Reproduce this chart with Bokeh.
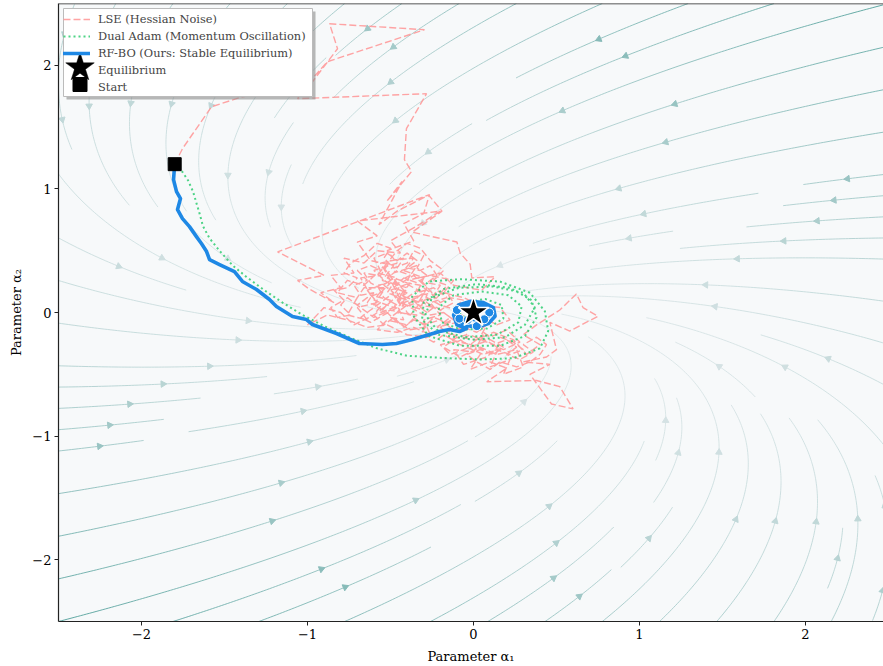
import math
import numpy as np
from bokeh.plotting import figure
from bokeh.models import Range1d, FixedTicker, Legend, LegendItem, ColumnDataSource, Span
from bokeh.embed import file_html
from bokeh.resources import INLINE

# ------------------------------------------------------------------ data
# linear vector field  d(alpha)/dt = A @ alpha  (read from the stream pattern)
FIELD_MATRIX = [[-0.85, -1.15], [0.20, -0.90]]
FIELD_X_LIMITS = [-2.5, 2.5]
FIELD_Y_LIMITS = [-2.5, 2.5]
STREAM_DENSITY = 1.0

X_TICKS = [-2, -1, 0, 1, 2]
X_TICK_LABELS = ["\u22122", "\u22121", "0", "1", "2"]
Y_TICKS = [-2, -1, 0, 1, 2]
Y_TICK_LABELS = ["\u22122", "\u22121", "0", "1", "2"]

SERIES_LABELS = ["LSE (Hessian Noise)", "Dual Adam (Momentum Oscillation)",
                 "RF-BO (Ours: Stable Equilibrium)", "Equilibrium", "Start"]

START_X = [-1.80]
START_Y = [1.20]
EQ_X = [0.0]
EQ_Y = [0.0]

LSE_PATH = [
    (-1.80, 1.20), (-1.753, 1.326), (-1.578, 1.665), (-1.392, 1.746), (-1.15, 1.80),
    (-0.970, 1.867), (-0.819, 2.134), (-0.867, 2.336), (-0.295, 2.288), (-0.880, 2.029),
    (-1.00, 1.85), (-1.060, 1.730), (-0.283, 1.770), (-0.404, 1.487), (-0.416, 1.237),
    (-0.373, 1.140), (-0.524, 0.897),
    (-0.43, 1.06), (-0.57, 0.71), (-0.46, 0.82), (-0.27, 0.95), (-0.19, 0.82), (-0.37, 0.65),
    (-0.10, 0.57), (-0.08, 0.48), (-0.02, 0.39), (-0.01, 0.28), (0.13, 0.29), (0.05, 0.18),
    (-0.12, 0.22), (-0.20, 0.32), (-0.33, 0.28), (-0.25, 0.16), (-0.38, 0.12), (-0.30, 0.02),
    (-0.45, 0.08), (-0.40, 0.20), (-0.55, 0.26), (-0.48, 0.38), (-0.62, 0.42), (-0.70, 0.57),
    (-0.58, 0.62), (-0.70, 0.74), (-0.20, 0.82), (-0.34, 0.70), (-0.50, 0.58), (-0.44, 0.48),
    (-0.58, 0.50), (-0.66, 0.40), (-0.78, 0.44), (-0.72, 0.32), (-0.86, 0.30), (-0.80, 0.20),
    (-0.92, 0.16), (-0.84, 0.08), (-0.99, 0.19), (-1.06, 0.26), (-0.90, 0.30), (-1.18, 0.49),
    (-0.265, 0.954), (-0.30, 0.80), (-0.42, 0.72), (-0.36, 0.58), (-0.52, 0.50), (-0.46, 0.40),
    (-0.60, 0.34), (-0.52, 0.24), (-0.64, 0.18), (-0.58, 0.08), (-0.70, 0.04), (-0.64, -0.06),
    (-0.76, -0.02), (-0.70, 0.12), (-0.82, 0.16), (-0.76, 0.26), (-0.66, 0.22), (-0.58, 0.32),
    (-0.46, 0.28), (-0.52, 0.16), (-0.40, 0.10), (-0.46, 0.00), (-0.34, -0.02), (-0.40, -0.10),
    (-0.52, -0.06), (-0.58, -0.14), (-0.46, -0.16), (-0.36, -0.12), (-0.26, -0.18), (-0.30, -0.06),
    (-0.20, -0.02), (-0.26, 0.08), (-0.16, 0.12), (-0.24, 0.20), (-0.34, 0.16), (-0.30, 0.28),
    (-0.42, 0.34), (-0.36, 0.44), (-0.50, 0.42), (-0.56, 0.30), (-0.68, 0.28), (-0.62, 0.14),
    (-0.50, 0.10), (-0.56, 0.00), (-0.44, 0.06), (-0.50, 0.18), (-0.38, 0.24), (-0.44, 0.14),
    (-0.32, 0.08), (-0.38, -0.02), (-0.50, 0.02), (-0.60, -0.04), (-0.72, 0.08), (-0.66, 0.20),
    (-0.54, 0.20), (-0.60, 0.10), (-0.48, 0.04), (-0.42, 0.18), (-0.54, 0.36), (-0.46, 0.22),
    (-0.36, 0.30), (-0.28, 0.20), (-0.34, 0.06), (-0.22, 0.04), (-0.14, -0.04), (-0.22, -0.12),
    (-0.10, -0.08), (-0.04, -0.18), (-0.14, -0.22), (-0.02, -0.26), (0.06, -0.18),
    (0.00, -0.32), (-0.12, -0.30), (-0.06, -0.42), (0.08, -0.36), (0.16, -0.26), (0.10, -0.44),
    (0.22, -0.38), (0.18, -0.50), (0.30, -0.44), (0.26, -0.30), (0.14, -0.34), (0.04, -0.28),
    (-0.08, -0.36), (-0.18, -0.28), (-0.10, -0.20), (0.02, -0.22), (0.12, -0.16), (0.24, -0.22),
    (0.32, -0.34), (0.40, -0.26), (0.30, -0.18), (0.38, -0.10),
    (0.52, 0.02), (0.62, 0.15), (0.66, 0.04), (0.75, -0.03), (0.58, -0.15), (0.46, -0.08),
    (0.50, -0.30), (0.44, -0.36), (0.30, -0.40), (0.46, -0.42), (0.34, -0.50), (0.47, -0.74),
    (0.60, -0.78), (0.52, -0.60), (0.38, -0.55), (0.08, -0.56), (0.20, -0.45), (0.10, -0.40),
    (-0.02, -0.46), (0.06, -0.30), (-0.06, -0.24),
    (-0.16, -0.14), (-0.28, -0.20), (-0.40, -0.18), (-0.52, -0.10), (-0.64, -0.12), (-0.76, -0.06),
    (-0.88, -0.02), (-1.00, -0.10), (-0.90, 0.04), (-0.80, 0.00), (-0.72, -0.10), (-0.60, -0.02),
    (-0.52, 0.06), (-0.44, 0.16), (-0.38, 0.06), (-0.28, 0.12), (-0.20, 0.06), (-0.10, 0.02),
    (-0.04, -0.06), (0.06, -0.04), (0.14, -0.10), (0.22, -0.06), (0.16, 0.04), (0.04, 0.06),
    (-0.06, 0.12), (-0.18, 0.16), (-0.12, 0.26), (-0.26, 0.30), (-0.40, 0.26), (-0.34, 0.38),
    (-0.48, 0.32), (-0.42, 0.44), (-0.56, 0.40), (-0.50, 0.26), (-0.40, 0.00), (-0.30, -0.10),
    (-0.20, -0.06), (-0.12, -0.14), (0.00, -0.10), (0.10, -0.20), (0.20, -0.14), (0.28, -0.24),
    (0.18, -0.30), (0.08, -0.24),
    (-0.02, -0.18), (-0.10, -0.24), (-0.18, -0.18), (-0.24, -0.24), (-0.32, -0.18), (-0.28, -0.10),
    (-0.36, -0.06), (-0.42, -0.12), (-0.48, -0.04), (-0.54, -0.10), (-0.60, -0.02), (-0.56, 0.05),
    (-0.64, 0.08), (-0.60, 0.16), (-0.68, 0.14), (-0.72, 0.22), (-0.64, 0.26), (-0.70, 0.34),
    (-0.62, 0.38), (-0.56, 0.34), (-0.60, 0.44), (-0.52, 0.48), (-0.46, 0.42), (-0.40, 0.48),
    (-0.34, 0.42), (-0.40, 0.36), (-0.32, 0.34), (-0.26, 0.38), (-0.22, 0.30), (-0.28, 0.24),
    (-0.20, 0.22), (-0.24, 0.14), (-0.16, 0.16), (-0.12, 0.08), (-0.20, 0.02), (-0.28, 0.06),
    (-0.34, 0.12), (-0.42, 0.08), (-0.48, 0.14), (-0.44, 0.22), (-0.52, 0.28), (-0.46, 0.34),
    (-0.38, 0.30), (-0.44, 0.26), (-0.36, 0.20), (-0.30, 0.16), (-0.36, 0.10), (-0.44, 0.02),
    (-0.50, -0.04), (-0.42, -0.06), (-0.46, 0.06), (-0.54, 0.12), (-0.58, 0.22), (-0.50, 0.24),
    (-0.56, 0.16), (-0.64, 0.12), (-0.70, 0.06), (-0.76, 0.12), (-0.80, 0.06), (-0.74, -0.02),
    (-0.82, -0.04), (-0.86, 0.04), (-0.78, 0.10), (-0.84, 0.18), (-0.76, 0.20), (-0.70, 0.28),
    (-0.78, 0.32), (-0.74, 0.40), (-0.66, 0.46), (-0.58, 0.56), (-0.50, 0.52), (-0.54, 0.44),
    (-0.48, 0.36), (-0.40, 0.40), (-0.36, 0.50), (-0.30, 0.46), (-0.34, 0.36), (-0.28, 0.30),
    (-0.34, 0.24), (-0.42, 0.28), (-0.48, 0.20), (-0.40, 0.16), (-0.46, 0.10), (-0.38, 0.04),
    (-0.30, -0.02), (-0.24, 0.04), (-0.30, 0.10), (-0.22, 0.12), (-0.16, 0.22), (-0.24, 0.26),
    (-0.18, 0.34), (-0.26, 0.42), (-0.32, 0.52), (-0.40, 0.56), (-0.46, 0.50), (-0.52, 0.40),
    (-0.58, 0.30), (-0.66, 0.32), (-0.62, 0.24), (-0.54, 0.18), (-0.60, 0.06), (-0.52, 0.00),
    (-0.46, -0.08), (-0.38, -0.14), (-0.30, -0.12), (-0.24, -0.04), (-0.16, -0.08), (-0.08, -0.02),
    (-0.12, 0.04), (-0.06, 0.10), (-0.14, 0.12), (-0.20, 0.08), (-0.26, 0.16), (-0.32, 0.22),
    (-0.40, 0.24), (-0.48, 0.28), (-0.54, 0.22), (-0.48, 0.16), (-0.56, 0.08), (-0.62, 0.02),
    (-0.68, -0.04), (-0.62, -0.08), (-0.54, -0.02), (-0.46, 0.04), (-0.40, 0.12), (-0.34, 0.18),
    (-0.28, 0.14), (-0.32, 0.04), (-0.26, -0.02), (-0.18, 0.00), (-0.12, -0.06), (-0.20, -0.12),
    (-0.14, -0.18), (-0.06, -0.12), (0.02, -0.16), (0.08, -0.10), (0.04, -0.20), (0.12, -0.26),
    (0.20, -0.22), (0.26, -0.28), (0.20, -0.34), (0.28, -0.38), (0.36, -0.32), (0.30, -0.26),
    (0.38, -0.20), (0.44, -0.26), (0.40, -0.34), (0.34, -0.40), (0.26, -0.44), (0.16, -0.40),
    (0.10, -0.46), (0.02, -0.40), (-0.04, -0.34), (0.04, -0.30), (0.12, -0.34), (0.18, -0.28),
    (0.10, -0.22), (0.02, -0.26), (-0.06, -0.30), (-0.14, -0.34), (-0.20, -0.26), (-0.12, -0.24),
    (-0.04, -0.28), (0.06, -0.34), (0.14, -0.30), (0.22, -0.34), (0.30, -0.30), (0.24, -0.24),
    (0.16, -0.20),
]
LSE_X = [pt[0] for pt in LSE_PATH]
LSE_Y = [pt[1] for pt in LSE_PATH]

ADAM_PATH = [
    (-1.80, 1.20), (-1.76, 1.15), (-1.72, 1.07), (-1.69, 0.98), (-1.67, 0.89), (-1.65, 0.80),
    (-1.63, 0.70), (-1.59, 0.60), (-1.53, 0.50), (-1.45, 0.38), (-1.37, 0.29), (-1.26, 0.18),
    (-1.15, 0.08), (-1.03, -0.02), (-0.90, -0.11), (-0.75, -0.20), (-0.58, -0.29), (-0.40, -0.35),
    (-0.16, -0.37), (0.05, -0.38), (0.24, -0.37), (0.40, -0.29), (0.45, -0.15), (0.43, 0.01),
    (0.34, 0.16), (0.16, 0.25), (-0.08, 0.27), (-0.27, 0.25), (-0.37, 0.13), (-0.36, -0.03),
    (-0.27, -0.19), (-0.08, -0.27), (0.16, -0.27), (0.31, -0.19), (0.38, -0.04), (0.35, 0.10),
    (0.22, 0.20), (0.02, 0.23), (-0.18, 0.19), (-0.30, 0.08), (-0.31, -0.06), (-0.21, -0.18),
    (0.00, -0.22), (0.19, -0.20), (0.31, -0.10), (0.37, 0.04), (0.30, 0.16), (0.12, 0.21),
    (-0.09, 0.20), (-0.25, 0.12), (-0.29, -0.02), (-0.22, -0.14), (-0.05, -0.20), (0.14, -0.18),
    (0.27, -0.08), (0.29, 0.05), (0.21, 0.14), (0.05, 0.17), (-0.12, 0.14), (-0.21, 0.04),
    (-0.19, -0.08), (-0.07, -0.14), (0.08, -0.13), (0.18, -0.05), (0.17, 0.06), (0.07, 0.11),
    (-0.05, 0.08), (-0.09, 0.00), (-0.03, -0.06), (0.04, -0.04),
]
ADAM_X = [pt[0] for pt in ADAM_PATH]
ADAM_Y = [pt[1] for pt in ADAM_PATH]

RFBO_X = [-1.80, -1.807, -1.789, -1.765, -1.783, -1.753, -1.711, -1.669, -1.639, -1.608,
          -1.590, -1.530, -1.440, -1.392, -1.307, -1.229, -1.187, -1.090, -1.006, -0.970,
          -0.825, -0.687, -0.548, -0.464, -0.367, -0.265, -0.205, -0.145, -0.084, -0.042,
          -0.10, -0.12, -0.09, -0.02, 0.06, 0.12, 0.13, 0.09, 0.02, -0.06, -0.11, -0.08,
          -0.01, 0.07, 0.10, 0.05, -0.02]
RFBO_Y = [1.20, 1.075, 0.978, 0.922, 0.833, 0.760, 0.695, 0.614, 0.558, 0.493,
          0.428, 0.388, 0.331, 0.251, 0.186, 0.105, 0.049, -0.032, -0.057, -0.097,
          -0.170, -0.251, -0.259, -0.251, -0.218, -0.178, -0.154, -0.137, -0.154, -0.129,
          -0.10, -0.02, 0.06, 0.09, 0.08, 0.04, -0.03, -0.09, -0.12, -0.10, -0.03, 0.04,
          0.07, 0.05, -0.02, -0.07, -0.05]
RFBO_END_X = [-0.085, -0.035, 0.02, 0.095, 0.065, -0.10]
RFBO_END_Y = [-0.05, -0.06, -0.11, 0.0, -0.055, 0.02]

# ------------------------------------------------------------------ layout
W_FIG, H_FIG = 883, 666
B_LEFT, B_TOP, B_BOTTOM = 58, 3, 45
X_RANGE = (-2.5, 2.47)
Y_RANGE = (-2.5, 2.5)
FRAME_W = W_FIG - B_LEFT
FRAME_H = H_FIG - B_TOP - B_BOTTOM
PX_X = FRAME_W / (X_RANGE[1] - X_RANGE[0])
PX_Y = FRAME_H / (Y_RANGE[1] - Y_RANGE[0])
FONT = "DejaVu Serif"

# legend box geometry in screen pixels (canvas coordinates)
LEG_MARGIN, LEG_PAD, LEG_GLYPH_W, LEG_GLYPH_H, LEG_SPACING, LEG_STANDOFF = 5, 3, 27, 14, 3, 8
LEG_W, LEG_H = 249, 88
LEG_LEFT, LEG_TOP = B_LEFT + LEG_MARGIN, B_TOP + LEG_MARGIN
LEG_ENTRY_BOTTOM = FRAME_H - LEG_H - 3       # legend entries anchor (frame coords, from bottom)
LEG_STAR_ROW, LEG_SQUARE_ROW = 67, 84         # canvas rows of the big legend markers


def px_to_x(px):
    return X_RANGE[0] + (px - B_LEFT) / PX_X


def px_to_y(py):
    return Y_RANGE[1] - (py - B_TOP) / PX_Y


# ------------------------------------------------------------------ streamlines
A = np.array(FIELD_MATRIX, dtype=float)
FX0, FX1 = FIELD_X_LIMITS
FY0, FY1 = FIELD_Y_LIMITS
FW, FH = FX1 - FX0, FY1 - FY0


def field(x, y):
    return A[0, 0] * x + A[0, 1] * y, A[1, 0] * x + A[1, 1] * y


def stream_trajectories():
    n = int(30 * STREAM_DENSITY)
    mask = np.zeros((n, n), dtype=bool)
    ds = 0.004
    maxlen = 2.0
    minlen = 0.1

    def cell(fx, fy):
        return int(fx * (n - 1) + 0.5), int(fy * (n - 1) + 0.5)

    def direction(fx, fy):
        u, v = field(FX0 + fx * FW, FY0 + fy * FH)
        ua, va = u / FW, v / FH
        s = math.hypot(ua, va)
        if s < 1e-9:
            return None
        return ua / s, va / s

    def integrate(fx, fy, sign, cells, start_cell):
        pts = []
        total = 0.0
        current = start_cell
        while total < maxlen:
            d1 = direction(fx, fy)
            if d1 is None:
                break
            mx, my = fx + 0.5 * ds * sign * d1[0], fy + 0.5 * ds * sign * d1[1]
            if not (0 <= mx <= 1 and 0 <= my <= 1):
                break
            d2 = direction(mx, my)
            if d2 is None:
                break
            nx_, ny_ = fx + ds * sign * d2[0], fy + ds * sign * d2[1]
            if not (0 <= nx_ <= 1 and 0 <= ny_ <= 1):
                break
            c = cell(nx_, ny_)
            if c != current:
                if mask[c[1], c[0]]:
                    break
                mask[c[1], c[0]] = True
                cells.append(c)
                current = c
            fx, fy = nx_, ny_
            pts.append((fx, fy))
            total += ds
        return pts, total

    seeds = []
    xfirst, yfirst, xlast, ylast = 0, 1, n - 1, n - 1
    x, y, dirn = 0, 0, "right"
    for _ in range(n * n):
        seeds.append((x, y))
        if dirn == "right":
            x += 1
            if x >= xlast:
                xlast -= 1
                dirn = "up"
        elif dirn == "up":
            y += 1
            if y >= ylast:
                ylast -= 1
                dirn = "left"
        elif dirn == "left":
            x -= 1
            if x <= xfirst:
                xfirst += 1
                dirn = "down"
        else:
            y -= 1
            if y <= yfirst:
                yfirst += 1
                dirn = "right"

    trajs = []
    for xm, ym in seeds:
        if mask[ym, xm]:
            continue
        fx, fy = xm / (n - 1), ym / (n - 1)
        mask[ym, xm] = True
        cells = [(xm, ym)]
        back, lb = integrate(fx, fy, -1, cells, (xm, ym))
        fwd, lf = integrate(fx, fy, 1, cells, (xm, ym))
        if lb + lf < minlen:
            for c in cells:
                mask[c[1], c[0]] = False
            continue
        pts = back[::-1] + [(fx, fy)] + fwd
        trajs.append([(FX0 + a * FW, FY0 + b * FH) for a, b in pts])
    return trajs


LOW_RGB = (224, 232, 234)
HIGH_RGB = (66, 152, 146)
corner_speed = max(math.hypot(*field(cx, cy)) for cx in FIELD_X_LIMITS for cy in FIELD_Y_LIMITS)


def speed_color(x, y):
    t = min(1.0, math.hypot(*field(x, y)) / corner_speed) ** 1.6
    r, g, b = (int(round(lo + (hi - lo) * t)) for lo, hi in zip(LOW_RGB, HIGH_RGB))
    return "#%02x%02x%02x" % (r, g, b)


seg_xs, seg_ys, seg_col = [], [], []
arr_x, arr_y, arr_ang, arr_col = [], [], [], []
CHUNK = 6
for traj in stream_trajectories():
    tx = [p_[0] for p_ in traj]
    ty = [p_[1] for p_ in traj]
    for i in range(0, len(traj) - 1, CHUNK):
        sx = tx[i:i + CHUNK + 1]
        sy = ty[i:i + CHUNK + 1]
        if len(sx) < 2:
            continue
        mid = len(sx) // 2
        seg_xs.append(sx)
        seg_ys.append(sy)
        seg_col.append(speed_color(sx[mid], sy[mid]))
    s = np.cumsum(np.hypot(np.diff(tx) / FW, np.diff(ty) / FH))
    k = int(np.searchsorted(s, s[-1] / 2.0))
    k = min(k, len(tx) - 2)
    hx, hy = (tx[k] + tx[k + 1]) / 2, (ty[k] + ty[k + 1]) / 2
    ang = math.atan2((ty[k + 1] - ty[k]) * PX_Y, (tx[k + 1] - tx[k]) * PX_X)
    arr_x.append(hx)
    arr_y.append(hy)
    arr_ang.append(ang - math.pi / 2)
    arr_col.append(speed_color(hx, hy))

# ------------------------------------------------------------------ figure
p = figure(width=W_FIG, height=H_FIG, x_range=Range1d(*X_RANGE), y_range=Range1d(*Y_RANGE),
           output_backend="svg", toolbar_location=None,
           min_border_left=B_LEFT, min_border_right=0, min_border_top=B_TOP,
           min_border_bottom=B_BOTTOM,
           background_fill_color="#f7f9fa", border_fill_color="white", outline_line_color=None)
p.grid.visible = False

p.multi_line(xs="xs", ys="ys", line_color="c", line_width=1.0, line_alpha=0.85,
             source=ColumnDataSource(dict(xs=seg_xs, ys=seg_ys, c=seg_col)))
p.scatter(x="x", y="y", angle="a", marker="triangle", size=6.5, fill_color="c", line_color="c",
          source=ColumnDataSource(dict(x=arr_x, y=arr_y, a=arr_ang, c=arr_col)))

r_lse = p.line(LSE_X, LSE_Y, line_color="#ff9494", line_alpha=0.85, line_width=1.4,
               line_dash="7 3")
r_adam = p.line(ADAM_X, ADAM_Y, line_color="#2ecc71", line_alpha=0.85, line_width=2.0,
                line_dash="2 3")
r_rfbo = p.line(RFBO_X, RFBO_Y, line_color="#1e88e5", line_width=3.6, line_join="round",
                line_cap="round")
p.scatter(RFBO_END_X, RFBO_END_Y, marker="circle", size=9, fill_color="#1e88e5",
          line_color="white", line_width=1.0)
p.scatter(EQ_X, EQ_Y, marker="star", size=32, fill_color="black", line_color="white",
          line_width=1.5)
p.scatter(START_X, START_Y, marker="square", size=13, fill_color="black", line_color="black")

for ax, ticks, labels in ((p.xaxis, X_TICKS, X_TICK_LABELS), (p.yaxis, Y_TICKS, Y_TICK_LABELS)):
    ax.ticker = FixedTicker(ticks=ticks)
    ax.major_label_overrides = {float(t): l for t, l in zip(ticks, labels)}
    ax.major_label_text_font = FONT
    ax.major_label_text_font_size = "13px"
    ax.major_label_text_color = "black"
    ax.axis_label_text_font = FONT
    ax.axis_label_text_font_size = "13px"
    ax.axis_label_text_font_style = "normal"
    ax.axis_label_text_color = "black"
    ax.axis_line_color = "#222222"
    ax.axis_line_width = 1.2
    ax.major_tick_line_color = "#222222"
    ax.major_tick_out = 4
    ax.major_tick_in = 0
    ax.minor_tick_line_color = None
    ax.major_label_standoff = 3
p.xaxis.axis_label = "Parameter \u03b1\u2081"
p.yaxis.axis_label = "Parameter \u03b1\u2082"
p.xaxis.axis_label_standoff = 7
p.yaxis.axis_label_standoff = 5

p.add_layout(Span(location=Y_RANGE[1], dimension="width", line_color="#222222", line_width=1.5))

# legend frame drawn as glyphs (shadow + white box), then full-size legend markers on top
p.quad(left=[px_to_x(LEG_LEFT + 3)], right=[px_to_x(LEG_LEFT + LEG_W + 3)],
       top=[px_to_y(LEG_TOP + 3)], bottom=[px_to_y(LEG_TOP + LEG_H + 3)],
       fill_color="#8a8a8a", fill_alpha=0.6, line_color=None)
p.quad(left=[px_to_x(LEG_LEFT)], right=[px_to_x(LEG_LEFT + LEG_W)],
       top=[px_to_y(LEG_TOP)], bottom=[px_to_y(LEG_TOP + LEG_H)],
       fill_color="white", fill_alpha=1.0, line_color="#bbbbbb", line_width=1)
glyph_cx = LEG_LEFT + LEG_PAD + LEG_GLYPH_W / 2
r_leg_square = p.scatter([px_to_x(glyph_cx)], [px_to_y(LEG_SQUARE_ROW)], marker="square",
                         size=14, fill_color="black", line_color="black")
r_leg_star = p.scatter([px_to_x(glyph_cx)], [px_to_y(LEG_STAR_ROW)], marker="star", size=30,
                       fill_color="black", line_color="black", line_width=0.5)

legend = Legend(items=[
    LegendItem(label=SERIES_LABELS[0], renderers=[r_lse]),
    LegendItem(label=SERIES_LABELS[1], renderers=[r_adam]),
    LegendItem(label=SERIES_LABELS[2], renderers=[r_rfbo]),
    LegendItem(label=SERIES_LABELS[3], renderers=[r_leg_star]),
    LegendItem(label=SERIES_LABELS[4], renderers=[r_leg_square]),
], location=(LEG_MARGIN, LEG_ENTRY_BOTTOM))
legend.label_text_font = FONT
legend.label_text_font_size = "11.4px"
legend.label_height = LEG_GLYPH_H
legend.glyph_height = LEG_GLYPH_H
legend.glyph_width = LEG_GLYPH_W
legend.spacing = LEG_SPACING
legend.padding = LEG_PAD
legend.margin = 0
legend.label_standoff = LEG_STANDOFF
legend.border_line_color = None
legend.background_fill_alpha = 0.0
p.add_layout(legend)

open("out.html", "w").write(file_html(p, INLINE))
